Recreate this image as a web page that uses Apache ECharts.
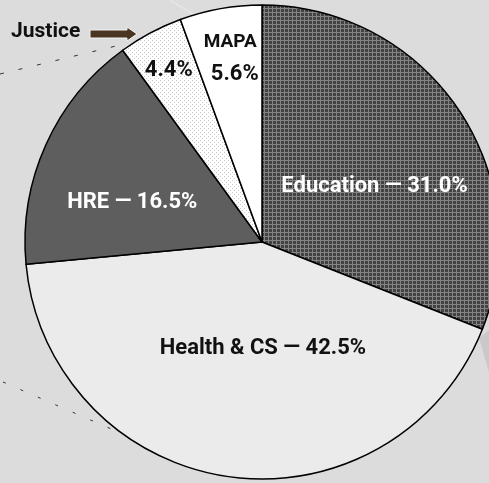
<!DOCTYPE html>
<html><head><meta charset="utf-8">
<script src="https://cdn.jsdelivr.net/npm/echarts@6/dist/echarts.min.js"></script>
<style>html,body{margin:0;padding:0;background:#dcdcdc;}#c{width:489px;height:483px;}</style>
</head><body><div id="c"></div>
<script>
const categories = ['Education', 'Health & CS', 'HRE', 'Justice', 'MAPA'];
const values = [31.0, 42.5, 16.5, 4.4, 5.6];
const labelTexts = ['Education \u2014 31.0%', 'Health & CS \u2014 42.5%', 'HRE \u2014 16.5%', '4.4%', '{s|MAPA}\n5.6%'];

function makePattern(size, draw) {
  const cv = document.createElement('canvas');
  cv.width = size; cv.height = size;
  const ctx = cv.getContext('2d');
  draw(ctx);
  return { image: cv, repeat: 'repeat' };
}
const gridPattern = makePattern(4, ctx => {
  ctx.fillStyle = '#424242'; ctx.fillRect(0, 0, 4, 4);
  ctx.fillStyle = '#858585'; ctx.fillRect(0, 0, 4, 1); ctx.fillRect(0, 0, 1, 4);
});
const dotPattern = makePattern(4, ctx => {
  ctx.fillStyle = '#ffffff'; ctx.fillRect(0, 0, 4, 4);
  ctx.fillStyle = '#c8c8c8'; ctx.fillRect(0, 0, 1, 1); ctx.fillRect(2, 2, 1, 1);
});
const fills = [gridPattern, '#ebebeb', '#5e5e5e', dotPattern, '#ffffff'];
const textColors = ['#ffffff', '#111111', '#ffffff', '#111111', '#111111'];
const labelShift = [[12, 13], [18, -14], [-19, 10], [-36, -64], [-6, -64]];

const chart = echarts.init(document.getElementById('c'), null, { renderer: 'canvas' });
chart.setOption({
  backgroundColor: '#dcdcdc',
  animation: false,
  graphic: [
    { type: 'polygon', shape: { points: [[479, 338], [489, 330], [489, 372]] }, style: { fill: '#c9c9c9' }, z: 0 },
    { type: 'line', shape: { x1: 170, y1: 0, x2: 196, y2: 16 }, style: { stroke: '#ececec', lineWidth: 1 }, z: 0 },
    { type: 'line', shape: { x1: 0, y1: 74, x2: 116, y2: 46 }, style: { stroke: '#333', lineWidth: 1, lineDash: [4, 15] }, z: 0 },
    { type: 'line', shape: { x1: 3, y1: 382, x2: 132, y2: 438 }, style: { stroke: '#333', lineWidth: 1, lineDash: [3, 16] }, z: 0 },
    { type: 'text', left: 11, top: 21, style: { text: 'Justice', font: 'bold 21px Roboto', fill: '#111' }, z: 10 },
    { type: 'polygon', shape: { points: [[90, 30], [127, 30], [127, 27], [137, 34], [127, 41], [127, 38], [90, 38]] },
      style: { fill: '#4a3522', stroke: '#f4f4f4', lineWidth: 1 }, z: 10 }
  ],
  series: [{
    type: 'pie',
    center: [262, 242],
    radius: 237,
    startAngle: 90,
    clockwise: true,
    data: categories.map((n, i) => ({
      name: n, value: values[i],
      itemStyle: { color: fills[i] },
      label: { color: textColors[i] }
    })),
    itemStyle: { borderColor: '#000', borderWidth: 1.5 },
    label: {
      show: true, position: 'inside',
      fontFamily: 'Roboto', fontWeight: 'bold', fontSize: 22, lineHeight: 33,
      formatter: p => labelTexts[p.dataIndex],
      rich: { s: { fontFamily: 'Roboto', fontWeight: 'bold', fontSize: 19, lineHeight: 33, color: '#111', padding: [0, 9, 0, 0] } }
    },
    labelLine: { show: false },
    labelLayout: p => ({ dx: labelShift[p.dataIndex][0], dy: labelShift[p.dataIndex][1] }),
    emphasis: { disabled: true }
  }]
});
</script></body></html>
